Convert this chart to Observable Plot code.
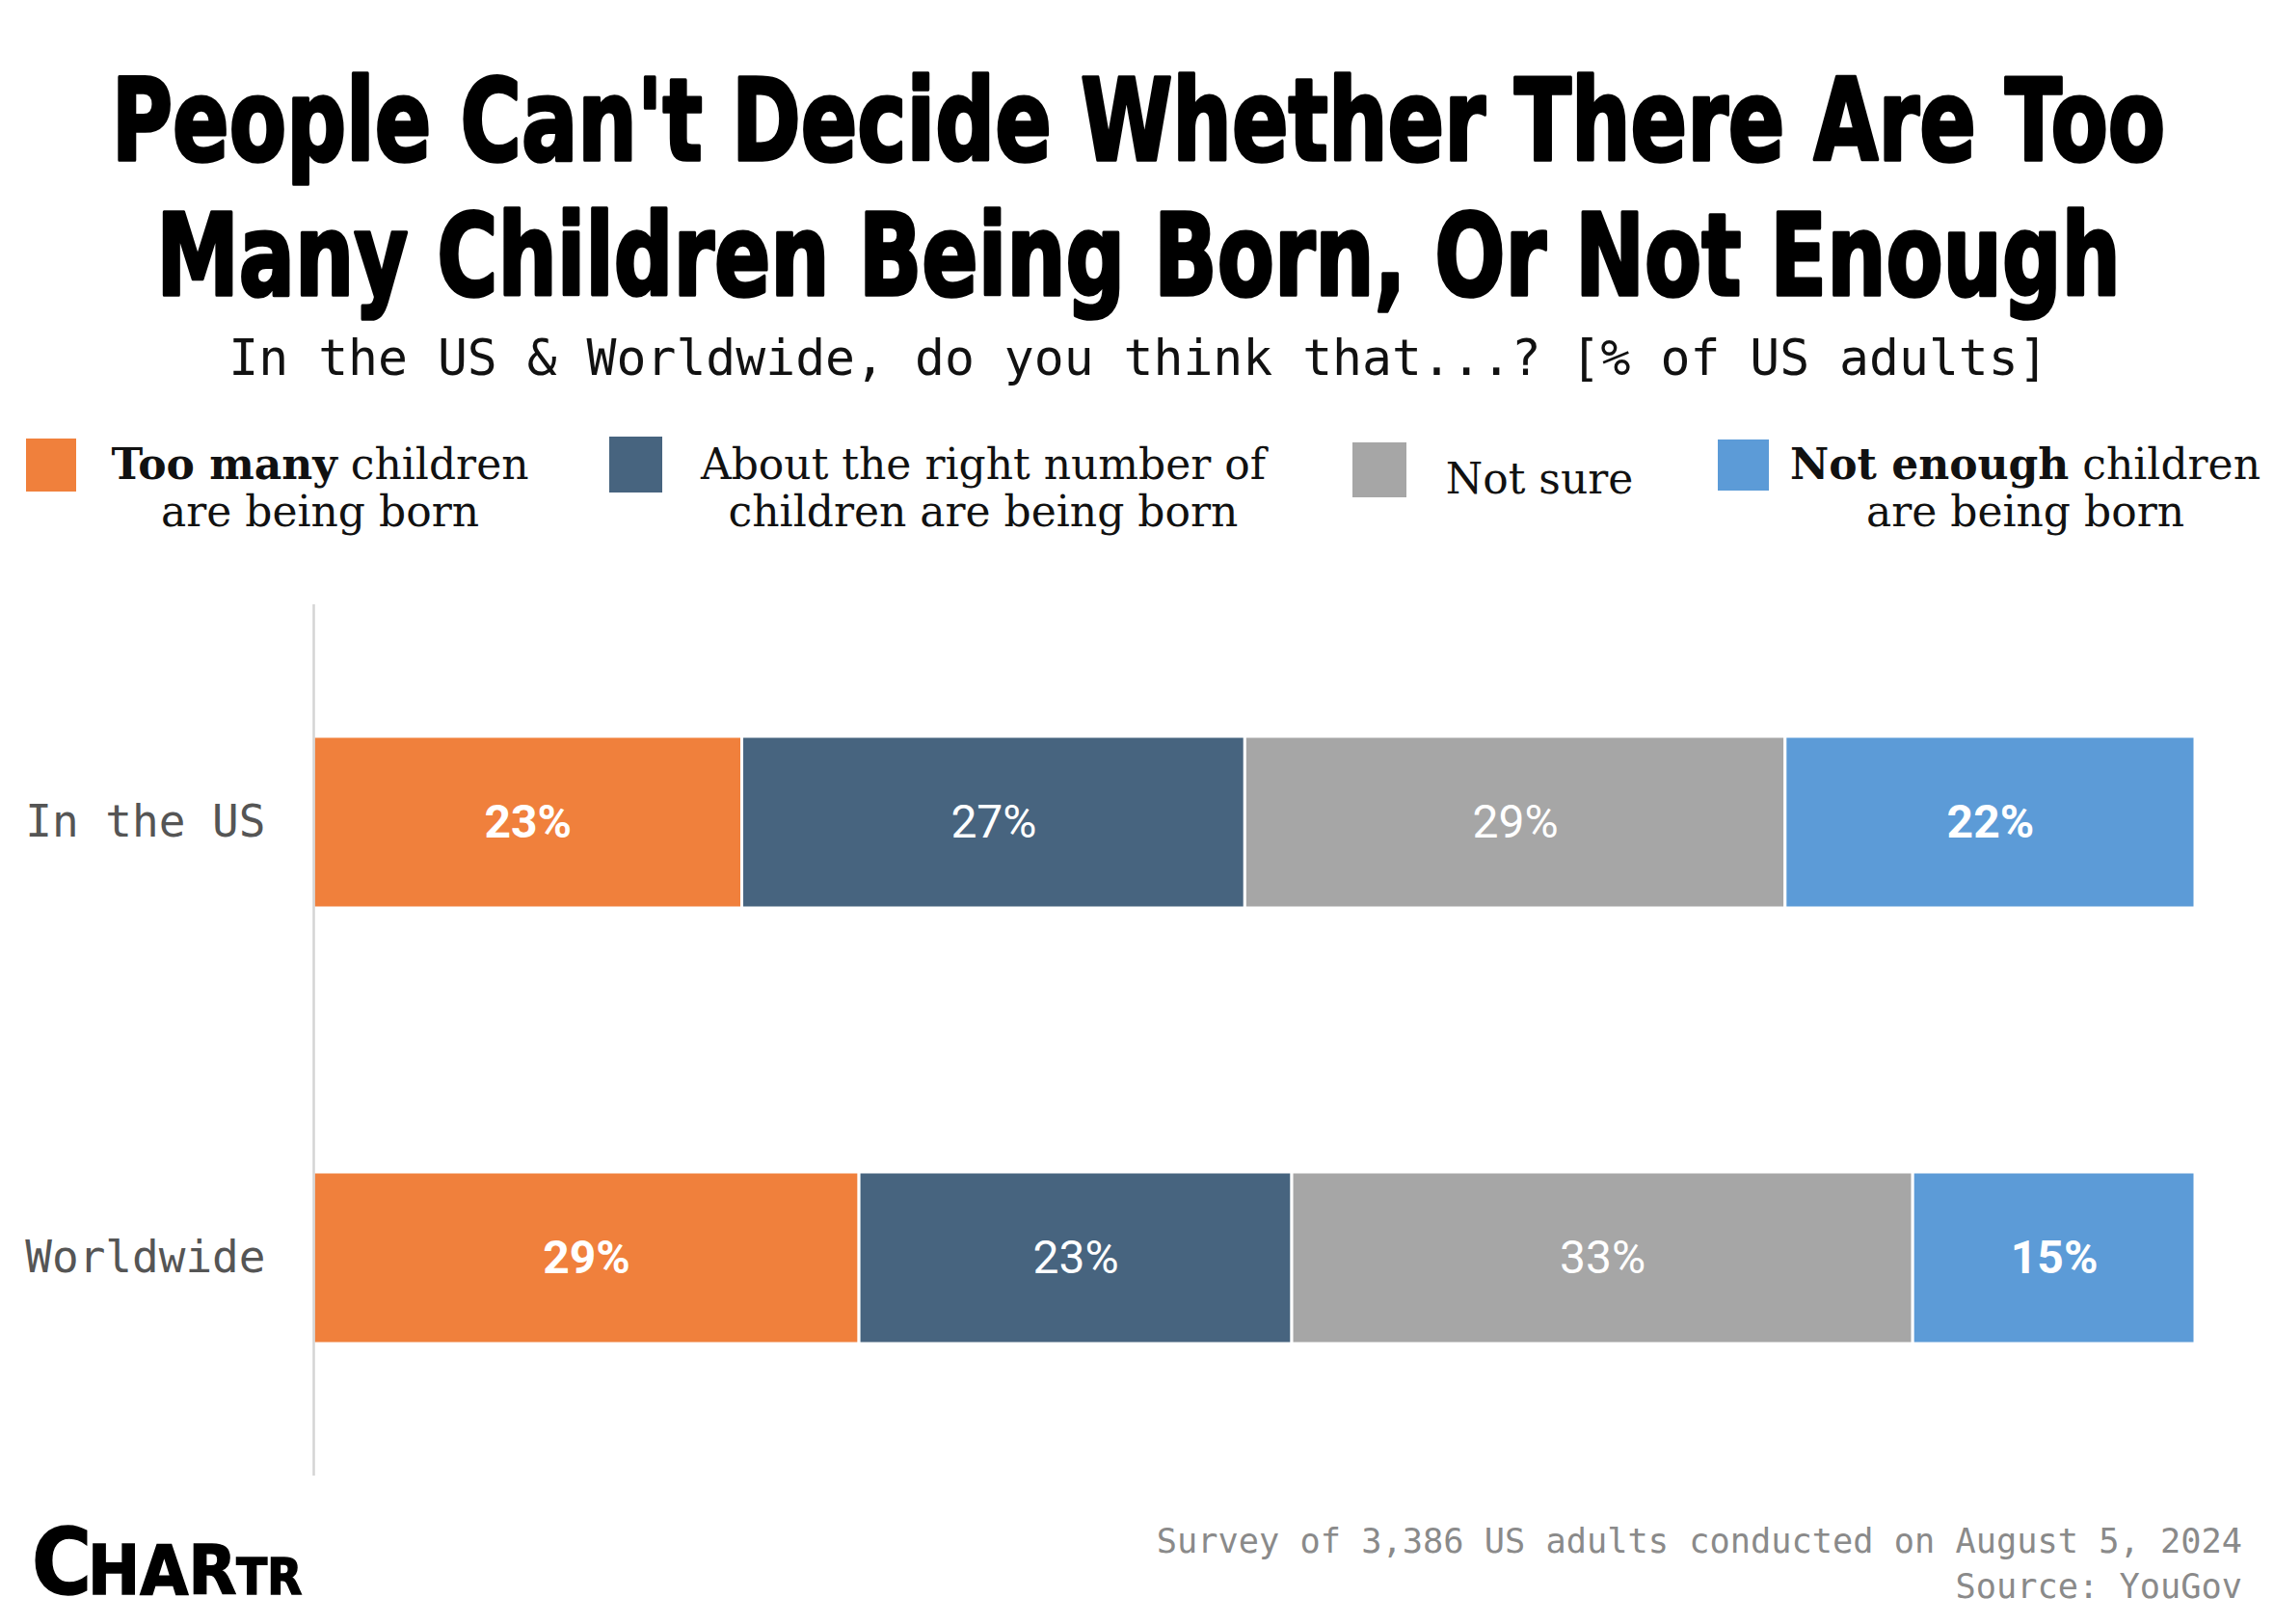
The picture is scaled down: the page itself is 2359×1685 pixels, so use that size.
<!DOCTYPE html>
<html>
<head>
<meta charset="utf-8">
<script src="https://cdn.jsdelivr.net/npm/d3@7"></script>
<script src="https://cdn.jsdelivr.net/npm/@observablehq/plot@0.6"></script>
<style>
  html, body { margin: 0; padding: 0; background: #fff; }
  #page { position: relative; width: 2359px; height: 1685px; overflow: hidden; background: #fff; }
  #overlay { position: absolute; left: 0; top: 0; }
  #chart { position: absolute; left: 0; top: 600px; }
</style>
</head>
<body>
<div id="page">
  <svg id="overlay" width="2359" height="1685"></svg>
  <div id="chart"></div>
</div>
<script>
// ---- data ----
const regions = ["In the US", "Worldwide"];
const categories = ["Too many", "About right", "Not sure", "Not enough"];
const usValues = [23, 27, 29, 22];
const worldValues = [29, 23, 33, 15];
const colors = ["#F0803C", "#47647F", "#A6A6A6", "#5C9BD7"];
const boldCategories = ["Too many", "Not enough"];

const titleLines = ["People Can't Decide Whether There Are Too", "Many Children Being Born, Or Not Enough"];
const subtitle = "In the US & Worldwide, do you think that...? [% of US adults]";
const legendItems = [
  {bold: "Too many", rest: " children", line2: "are being born"},
  {bold: "", rest: "About the right number of", line2: "children are being born"},
  {bold: "", rest: "Not sure", line2: ""},
  {bold: "Not enough", rest: " children", line2: "are being born"}
];
const footerLines = ["Survey of 3,386 US adults conducted on August 5, 2024", "Source: YouGov"];

const data = [];
regions.forEach((r, i) => {
  const vals = i === 0 ? usValues : worldValues;
  categories.forEach((c, j) => data.push({region: r, category: c, value: vals[j]}));
});

// ---- chart ----
const chart = Plot.plot({
  width: 2359,
  height: 960,
  marginTop: 27,
  marginBottom: 29,
  marginLeft: 325,
  marginRight: 82,
  style: {background: "transparent"},
  x: {domain: [0, 1], axis: null},
  y: {domain: regions, paddingInner: 0.606, paddingOuter: 0.303, label: null},
  color: {domain: categories, range: colors},
  marks: [
    Plot.barX(data, Plot.stackX({x: "value", y: "region", fill: "category", order: categories, offset: "normalize", stroke: "white", strokeWidth: 3})),
    Plot.ruleX([0], {stroke: "#d4d4d4", strokeWidth: 2.5}),
    Plot.text(data, Plot.stackX({x: "value", y: "region", z: "category", order: categories, offset: "normalize",
      text: d => boldCategories.includes(d.category) ? d.value + "%" : "",
      fill: "white", fontSize: 48, fontWeight: "bold", fontFamily: "Roboto"})),
    Plot.text(data, Plot.stackX({x: "value", y: "region", z: "category", order: categories, offset: "normalize",
      text: d => boldCategories.includes(d.category) ? "" : d.value + "%",
      fill: "white", fontSize: 48, fontWeight: "normal", fontFamily: "Roboto"})),
    Plot.axisY({tickSize: 0, tickPadding: 50, fontSize: 46, fontFamily: "DejaVu Sans Mono", fill: "#555", label: null})
  ]
});
document.getElementById("chart").appendChild(chart);

// ---- overlay text ----
const svg = d3.select("#overlay");
const titleWidths = [2131, 2038];
const titleBase = [166, 306];
const titleCenter = 1181;
const baseSize = 80, targetSize = 118;
titleLines.forEach((t, i) => {
  const el = svg.append("text").attr("text-anchor", "middle")
    .attr("font-family", "DejaVu Sans").attr("font-weight", "bold")
    .attr("font-size", baseSize).attr("fill", "#000")
    .attr("stroke", "#000").attr("stroke-width", 2.5).attr("stroke-linejoin", "round")
    .text(t);
  const len = el.node().getComputedTextLength();
  const sx = titleWidths[i] / len, sy = targetSize / baseSize;
  el.attr("transform", `translate(${titleCenter},${titleBase[i]}) scale(${sx},${sy})`);
});
svg.append("text").attr("x", 1181).attr("y", 389).attr("text-anchor", "middle")
  .attr("font-family", "DejaVu Sans Mono").attr("font-size", 51.4).attr("fill", "#111").text(subtitle);

// legend
const swatches = [
  {x: 27, y: 455, w: 52, h: 55},
  {x: 632, y: 453, w: 55, h: 58},
  {x: 1403, y: 459, w: 56, h: 57},
  {x: 1782, y: 456, w: 53, h: 53}
];
const textCenters = [332, 1020, 1597, 2101];
legendItems.forEach((it, i) => {
  const s = swatches[i];
  svg.append("rect").attr("x", s.x).attr("y", s.y).attr("width", s.w).attr("height", s.h).attr("fill", colors[i]);
  const single = it.line2 === "";
  const t1 = svg.append("text").attr("x", textCenters[i]).attr("y", single ? 512 : 497).attr("text-anchor", "middle")
    .attr("font-family", "DejaVu Serif").attr("font-size", 44).attr("fill", "#111");
  if (it.bold) t1.append("tspan").attr("font-weight", "bold").text(it.bold);
  t1.append("tspan").text(it.rest);
  if (!single) {
    svg.append("text").attr("x", textCenters[i]).attr("y", 546).attr("text-anchor", "middle")
      .attr("font-family", "DejaVu Serif").attr("font-size", 44).attr("fill", "#111").text(it.line2);
  }
});

// footer
const footBase = [1611, 1658];
footerLines.forEach((t, i) => {
  svg.append("text").attr("x", 2326).attr("y", footBase[i]).attr("text-anchor", "end")
    .attr("font-family", "DejaVu Sans Mono").attr("font-size", 35.3).attr("fill", "#8a8a8a").text(t);
});

// logo
const logo = svg.append("text").attr("x", 33).attr("y", 1654).attr("font-family", "DejaVu Sans Condensed, DejaVu Sans")
  .attr("font-weight", "bold").attr("fill", "#000").attr("stroke", "#000").attr("stroke-width", 1.5);
logo.append("tspan").attr("font-size", 94).text("C");
logo.append("tspan").attr("font-size", 72).attr("dx", -4).text("HAR");
logo.append("tspan").attr("font-size", 52).text("TR");
</script>
</body>
</html>
